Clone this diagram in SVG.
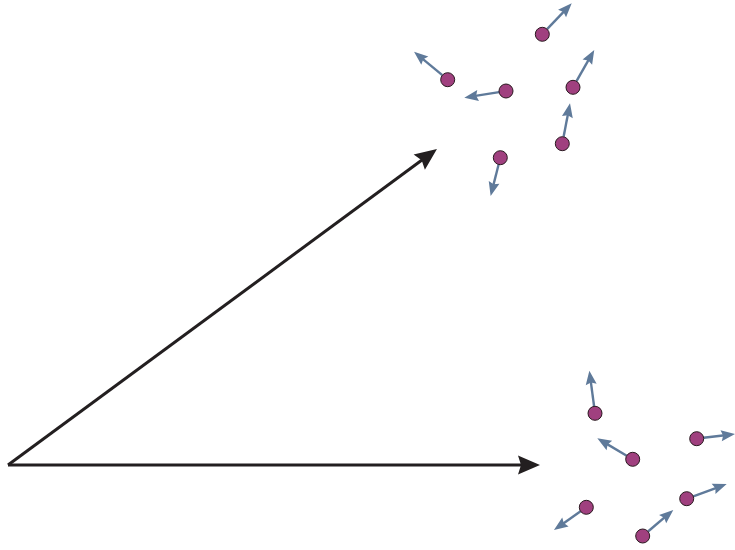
<svg xmlns="http://www.w3.org/2000/svg" width="735" height="550" viewBox="0 0 735 550">
<style>
.main{stroke:#231f20;stroke-width:3;fill:none;marker-end:url(#bk)}
.vel{stroke:#5f7a9a;stroke-width:2.4;fill:none;marker-end:url(#bl)}
.p{fill:#a0407f;stroke:#2a1a20;stroke-width:1}
</style>
<defs>
<marker id="bk" markerUnits="userSpaceOnUse" markerWidth="24" markerHeight="20" refX="8" refY="9.5" orient="auto" overflow="visible">
<path d="M0,0 L22,9.5 L0,19 L3,9.5 z" fill="#231f20"/>
</marker>
<marker id="bl" markerUnits="userSpaceOnUse" markerWidth="16" markerHeight="12" refX="6" refY="5.5" orient="auto" overflow="visible">
<path d="M0,0 L14,5.5 L0,11 L2,5.5 z" fill="#5f7a9a"/>
</marker>
</defs>
<rect width="735" height="550" fill="#fff"/>
<g id="connectors">
<line class="main" x1="8" y1="465" x2="425.7" y2="157.3"/>
<line class="main" x1="8" y1="465" x2="526" y2="465"/>
<line class="vel" x1="547.1" y1="29.2" x2="566.2" y2="9.1"/>
<line class="vel" x1="442.3" y1="75.2" x2="420.2" y2="56.8"/>
<line class="vel" x1="499.1" y1="92.1" x2="472.2" y2="96.4"/>
<line class="vel" x1="576.5" y1="81.2" x2="590.3" y2="56.9"/>
<line class="vel" x1="563.6" y1="136.8" x2="568.5" y2="111.2"/>
<line class="vel" x1="498.6" y1="164.5" x2="492.6" y2="188.2"/>
<line class="vel" x1="594.1" y1="406.4" x2="590.4" y2="378.6"/>
<line class="vel" x1="703.6" y1="437.8" x2="727.1" y2="435.0"/>
<line class="vel" x1="626.7" y1="455.7" x2="604.2" y2="442.4"/>
<line class="vel" x1="580.6" y1="511.3" x2="560.5" y2="525.4"/>
<line class="vel" x1="693.3" y1="496.3" x2="719.2" y2="486.8"/>
<line class="vel" x1="648.0" y1="531.5" x2="667.2" y2="515.2"/>
</g>
<g id="p1"><circle class="p" cx="542.3" cy="34.3" r="7"/></g>
<g id="p2"><circle class="p" cx="447.7" cy="79.7" r="7"/></g>
<g id="p3"><circle class="p" cx="506" cy="91" r="7"/></g>
<g id="p4"><circle class="p" cx="573" cy="87.3" r="7"/></g>
<g id="p5"><circle class="p" cx="562.3" cy="143.7" r="7"/></g>
<g id="p6"><circle class="p" cx="500.3" cy="157.7" r="7"/></g>
<g id="q1"><circle class="p" cx="595" cy="413.3" r="7"/></g>
<g id="q2"><circle class="p" cx="696.7" cy="438.7" r="7"/></g>
<g id="q3"><circle class="p" cx="632.7" cy="459.3" r="7"/></g>
<g id="q4"><circle class="p" cx="586.3" cy="507.3" r="7"/></g>
<g id="q5"><circle class="p" cx="686.7" cy="498.7" r="7"/></g>
<g id="q6"><circle class="p" cx="642.7" cy="536" r="7"/></g>
</svg>
